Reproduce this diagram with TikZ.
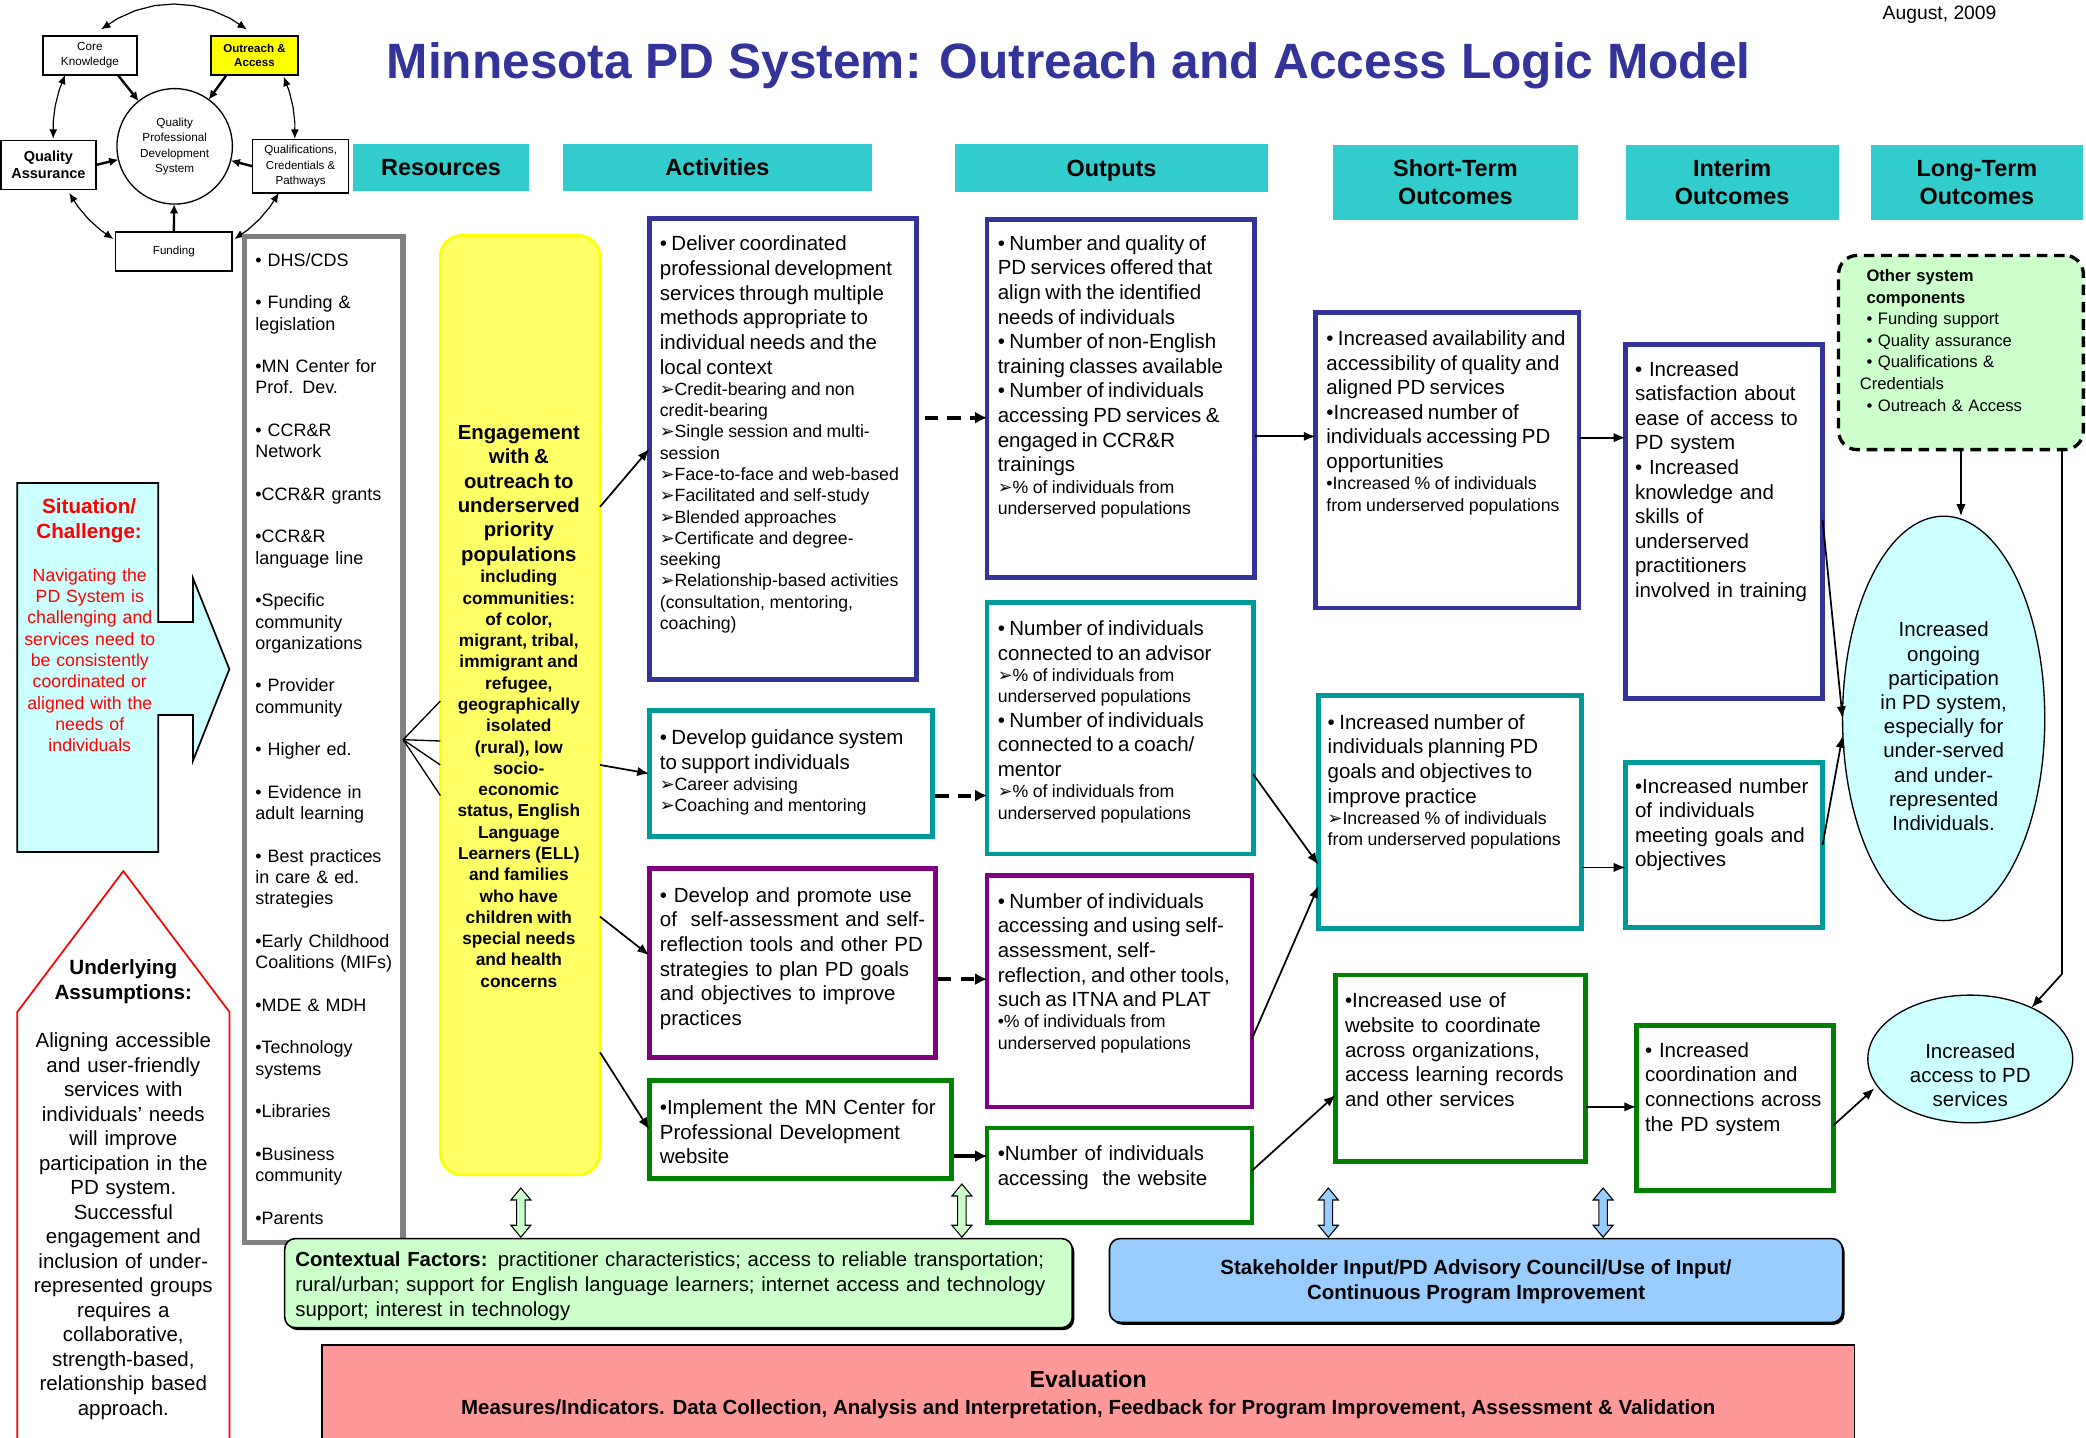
\documentclass[tikz,border=0pt]{standalone}
\usepackage{fontspec}
\setmainfont{Liberation Sans}
\newfontfamily\dejavu{DejaVu Sans}
\usetikzlibrary{arrows.meta,shapes.geometric,shadows}
\definecolor{navy}{HTML}{333399}
\definecolor{tealb}{HTML}{009999}
\definecolor{purp}{HTML}{800080}
\definecolor{grn}{HTML}{008000}
\definecolor{hdr}{HTML}{33CCCC}
\definecolor{ylw}{HTML}{FFFF66}
\definecolor{ylwb}{HTML}{FFFF00}
\definecolor{lcyan}{HTML}{CCFFFF}
\definecolor{lgrn}{HTML}{CCFFCC}
\definecolor{lblue}{HTML}{99CCFF}
\definecolor{salmon}{HTML}{FF9999}
\definecolor{grayb}{HTML}{808080}
\newcommand\arr{{\dejavu\char"27A2}}
\newcommand\fmn{\fontsize{15.4}{18.5}\selectfont}
\newcommand\fsbb{\fontsize{13.3}{16}\selectfont}
\newcommand\dblarr[4]{\draw[dbl, fill=#4] (#1,#2) -- ({#1+7.5},{#2+9}) -- ({#1+3.2},{#2+9}) -- ({#1+3.2},{#3-9}) -- ({#1+7.5},{#3-9}) -- (#1,#3) -- ({#1-7.5},{#3-9}) -- ({#1-3.2},{#3-9}) -- ({#1-3.2},{#2+9}) -- ({#1-7.5},{#2+9}) -- cycle;}
\setlength{\parindent}{0pt}
\begin{document}
\begin{tikzpicture}[x=1pt,y=-1pt,
  box/.style={draw, line width=3.5pt, fill=white, inner sep=0pt, outer sep=0pt},
  tx/.style={anchor=north west, inner sep=0pt, outer sep=0pt, align=left, text width=#1},
  ctr/.style={anchor=north, inner sep=0pt, outer sep=0pt, align=center, text width=#1},
  hdrbox/.style={fill=hdr, inner sep=0pt, outer sep=0pt, align=center, font=\fontsize{17.6}{21}\selectfont\bfseries},
  hdrone/.style={hdrbox, text height=12.7pt, text depth=0pt},
  cbox/.style={draw, line width=1pt, fill=white, inner sep=0pt, outer sep=0pt, align=center},
  cyc/.style={line width=0.9pt, {Latex[length=7pt,width=6pt]}-{Latex[length=7pt,width=6pt]}},
  cst/.style={line width=1.8pt, -{Latex[length=7pt,width=6.5pt]}},
  marr/.style={line width=1.3pt, -{Latex[length=9pt,width=7pt]}},
  darr/.style={line width=3pt, dash pattern=on 10pt off 7pt, -{Latex[length=9pt,width=9pt]}},
  tarr/.style={line width=3pt, -{Latex[length=9pt,width=9pt]}},
  fan/.style={line width=1pt},
  rbox/.style={draw, line width=1.2pt, rounded corners=8pt, inner sep=0pt, outer sep=0pt},
  dbl/.style={draw=black, line width=0.8pt},
]
\useasboundingbox (0,0) rectangle (1568,1080.2);
\fill[white] (0,0) rectangle (1568,1080.2);

% ---------- title ----------
\node[anchor=base, inner sep=0, font=\fontsize{37.3}{45}\selectfont\bfseries, text=navy] (title) at (803.3,58.9) {Minnesota PD System: Outreach and Access Logic Model};
\node[anchor=base west, inner sep=0, font=\fontsize{14.5}{17}\selectfont] (date) at (1415,15) {August, 2009};

% ---------- cycle diagram ----------
\node[cbox, minimum width=70.7, minimum height=29.4, font=\fontsize{8.8}{11.3}\selectfont] (core) at (67.6,41.7) {Core\\Knowledge};
\node[cbox, fill=ylwb, minimum width=65.4, minimum height=29.4, font=\fontsize{8.7}{10.5}\selectfont\bfseries] (outreach) at (191.3,41.7) {Outreach \&\\Access};
\node[cbox, minimum width=71.3, minimum height=37, font=\fontsize{10.9}{13}\selectfont\bfseries] (qa) at (36.4,124) {Quality\\Assurance};
\node[cbox, minimum width=72, minimum height=40, font=\fontsize{8.7}{11.7}\selectfont] (qual) at (226,125) {Qualifications,\\Credentials \&\\Pathways};
\node[cbox, minimum width=87.4, minimum height=29.3, font=\fontsize{8.7}{11}\selectfont] (funding) at (130.7,189) {Funding};
\node[cbox, circle, minimum size=86.8, font=\fontsize{8.8}{11.5}\selectfont] (qpd) at (131.3,110) {Quality\\Professional\\Development\\System};
\draw[cyc] plot[domain=-127:-53, samples=9] ({130.8+91*cos(\x)},{97.7+94.7*sin(\x)});
\draw[cyc] plot[domain=-25:4, samples=5] ({130.8+91*cos(\x)},{97.7+94.7*sin(\x)});
\draw[cyc] plot[domain=30:60, samples=5] ({130.8+91*cos(\x)},{97.7+94.7*sin(\x)});
\draw[cyc] plot[domain=120:150, samples=5] ({130.8+91*cos(\x)},{97.7+94.7*sin(\x)});
\draw[cyc] plot[domain=176:206, samples=5] ({130.8+91*cos(\x)},{97.7+94.7*sin(\x)});
\draw[cst] (core.-35) -- (qpd);
\draw[cst] (outreach.-145) -- (qpd);
\draw[cst] (qa.east) -- (qpd);
\draw[cst] (qual.west) -- (qpd);
\draw[cst] (funding.north) -- (qpd);

% ---------- headers ----------
\node[hdrone, minimum width=133, minimum height=35.5] (hres) at (331.5,125.75) {Resources};
\node[hdrone, minimum width=232.5, minimum height=35.5] (hact) at (539.25,125.75) {Activities};
\node[hdrone, minimum width=235, minimum height=36] (hout) at (835.5,126) {Outputs};
\node[hdrbox, minimum width=184, minimum height=56.5] (hst) at (1094,137.25) {Short-Term\\Outcomes};
\node[hdrbox, minimum width=160, minimum height=56.5] (hint) at (1302,137.25) {Interim\\Outcomes};
\node[hdrbox, minimum width=160, minimum height=56.5] (hlt) at (1486,137.25) {Long-Term\\Outcomes};

% ---------- situation & assumptions ----------
\draw[fill=lcyan, line width=1.3pt] (13,363) -- (119,363) -- (119,467.5) -- (145,467.5) -- (145,434.5) -- (172.4,503) -- (145,572) -- (145,537.5) -- (119,537.5) -- (119,640.5) -- (13,640.5) -- cycle;
\node[ctr=104, text=red, font=\fontsize{15.5}{18.5}\selectfont\bfseries] (sitt) at (67,375) {Situation/\\Challenge:};
\node[ctr=104, text=red, font=\fontsize{13.3}{16}\selectfont] (sitx) at (67.5,427.4) {Navigating the\\PD System is\\challenging and\\services need to\\be consistently\\coordinated or\\aligned with the\\needs of\\individuals};
\draw[fill=white, draw=red, line width=1.3pt] (13,1095) -- (13,760.7) -- (92.7,654.8) -- (172.5,760.7) -- (172.5,1095);
\node[ctr=150, font=\fontsize{15.5}{18.7}\selectfont\bfseries] (ast) at (92.7,721.2) {Underlying\\Assumptions:};
\node[ctr=155, font=\fontsize{15.4}{18.4}\selectfont] (asx) at (92.7,776.5) {Aligning accessible\\and user-friendly\\services with\\individuals’ needs\\will improve\\participation in the\\PD system.\\Successful\\engagement and\\inclusion of under-\\represented groups\\requires a\\collaborative,\\strength-based,\\relationship based\\approach.};

% ---------- resources ----------
\node[box, draw=grayb, line width=4pt, minimum width=119, minimum height=756] (res) at (243.5,556) {};
\node[tx=108, font=\fontsize{13.5}{16}\selectfont] (rest) at (192,190.3) {• DHS/CDS\\[16pt]• Funding \&\\legislation\\[16pt]•MN Center for\\Prof. Dev.\\[16pt]• CCR\&R\\Network\\[16pt]•CCR\&R grants\\[16pt]•CCR\&R\\language line\\[16pt]•Specific\\community\\organizations\\[16pt]• Provider\\community\\[16pt]• Higher ed.\\[16pt]• Evidence in\\adult learning\\[16pt]• Best practices\\in care \& ed.\\strategies\\[16pt]•Early Childhood\\Coalitions (MIFs)\\[16pt]•MDE \& MDH\\[16pt]•Technology\\systems\\[16pt]•Libraries\\[16pt]•Business\\community\\[16pt]•Parents};

% ---------- yellow engagement box ----------
\node[draw=ylwb, fill=ylw, line width=2pt, rounded corners=16pt, minimum width=120, minimum height=706, inner sep=0, outer sep=0] (yel) at (391,530) {};
\node[ctr=118, font=\bfseries] (yelt) at (390,319.5) {{\fontsize{15.3}{18.4}\selectfont Engagement\\with \&\\outreach to\\underserved\\priority\\populations\par}{\fontsize{13}{16}\selectfont including\\communities:\\of color,\\migrant, tribal,\\immigrant and\\refugee,\\geographically\\isolated\\(rural), low\\socio-\\economic\\status, English\\Language\\Learners (ELL)\\and families\\who have\\children with\\special needs\\and health\\concerns\par}};

% ---------- activities ----------
\node[box, draw=navy, minimum width=201, minimum height=347] (a1) at (588.5,337.5) {};
\node[box, draw=tealb, minimum width=213, minimum height=95] (a2) at (594.5,581.5) {};
\node[box, draw=purp, minimum width=215, minimum height=142] (a3) at (595.5,724) {};
\node[box, draw=grn, minimum width=227, minimum height=74] (a4) at (601.5,849) {};
\node[tx=200] (a1t) at (496,177.5) {{\fmn • Deliver coordinated\\professional development\\services through multiple\\methods appropriate to\\individual needs and the\\local context\par}{\fsbb\arr Credit-bearing and non\\credit-bearing\\\arr Single session and multi-\\session\\\arr Face-to-face and web-based\\\arr Facilitated and self-study\\\arr Blended approaches\\\arr Certificate and degree-\\seeking\\\arr Relationship-based activities\\(consultation, mentoring,\\coaching)\par}};
\node[tx=205] (a2t) at (496,548.5) {{\fmn • Develop guidance system\\to support individuals\par}{\fsbb\arr Career advising\\\arr Coaching and mentoring\par}};
\node[tx=205, font=\fmn] (a3t) at (496,667) {• Develop and promote use\\of~ self-assessment and self-\\reflection tools and other PD\\strategies to plan PD goals\\and objectives to improve\\practices};
\node[tx=215, font=\fmn] (a4t) at (496,826.5) {•Implement the MN Center for\\Professional Development\\website};

% ---------- outputs ----------
\node[box, draw=navy, minimum width=201, minimum height=269] (o1) at (842.5,299.5) {};
\node[box, draw=tealb, minimum width=200, minimum height=189] (o2) at (842,547.5) {};
\node[box, draw=purp, minimum width=199, minimum height=174] (o3) at (841.5,745) {};
\node[box, draw=grn, minimum width=199, minimum height=71] (o4) at (841.5,883.5) {};
\node[tx=195] (o1t) at (750,177) {{\fmn • Number and quality of\\PD services offered that\\align with the identified\\needs of individuals\\• Number of non-English\\training classes available\\• Number of individuals\\accessing PD services \&\\engaged in CCR\&R\\trainings\par}{\fsbb\arr\% of individuals from\\underserved populations\par}};
\node[tx=195] (o2t) at (750,466.5) {{\fmn • Number of individuals\\connected to an advisor\par}{\fsbb\arr\% of individuals from\\underserved populations\par}{\fmn • Number of individuals\\connected to a coach/\\mentor\par}{\fsbb\arr\% of individuals from\\underserved populations\par}};
\node[tx=195] (o3t) at (750,671.5) {{\fmn • Number of individuals\\accessing and using self-\\assessment, self-\\reflection, and other tools,\\such as ITNA and PLAT\par}{\fsbb •\% of individuals from\\underserved populations\par}};
\node[tx=195, font=\fmn] (o4t) at (750,861.5) {•Number of individuals\\accessing~ the website};

% ---------- short-term ----------
\node[box, draw=navy, minimum width=198, minimum height=222] (s1) at (1088,346) {};
\node[box, draw=tealb, minimum width=198, minimum height=175] (s2) at (1090,610.5) {};
\node[box, draw=grn, minimum width=188, minimum height=140] (s3) at (1098,803) {};
\node[tx=195] (s1t) at (997,248.5) {{\fmn • Increased availability and\\accessibility of quality and\\aligned PD services\\•Increased number of\\individuals accessing PD\\opportunities\par}{\fsbb •Increased \% of individuals\\from underserved populations\par}};
\node[tx=195] (s2t) at (998,537) {{\fmn • Increased number of\\individuals planning PD\\goals and objectives to\\improve practice\par}{\fsbb\arr Increased \% of individuals\\from underserved populations\par}};
\node[tx=185, font=\fmn] (s3t) at (1011,746.5) {•Increased use of\\website to coordinate\\across organizations,\\access learning records\\and other services};

% ---------- interim ----------
\node[box, draw=navy, minimum width=148, minimum height=266] (i1) at (1296,392) {};
\node[box, draw=tealb, minimum width=148, minimum height=124] (i2) at (1296,635) {};
\node[box, draw=grn, minimum width=148, minimum height=124] (i3) at (1304,833) {};
\node[tx=140, font=\fmn] (i1t) at (1229,271.5) {• Increased\\satisfaction about\\ease of access to\\PD system\\• Increased\\knowledge and\\skills of\\underserved\\practitioners\\involved in training};
\node[tx=140, font=\fmn] (i2t) at (1229,585) {•Increased number\\of individuals\\meeting goals and\\objectives};
\node[tx=140, font=\fmn] (i3t) at (1236.5,783.5) {• Increased\\coordination and\\connections across\\the PD system};

% ---------- long-term ----------
\node[draw, line width=2.5pt, dash pattern=on 8pt off 5pt, rounded corners=14pt, fill=lgrn, minimum width=184, minimum height=146, inner sep=0, outer sep=0] (osc) at (1474,265) {};
\node[tx=165, font=\fontsize{12.5}{16.2}\selectfont] (osct) at (1398,202.7) {\hspace*{5pt}\textbf{Other system}\\\hspace*{5pt}\textbf{components}\\\hspace*{5pt}• Funding support\\\hspace*{5pt}• Quality assurance\\\hspace*{5pt}• Qualifications \&\\Credentials\\\hspace*{5pt}• Outreach \& Access};
\node[ellipse, draw, line width=1pt, fill=lcyan, minimum width=152, minimum height=304, inner sep=0, outer sep=0] (e1) at (1461,540) {};
\node[align=center, inner sep=0, font=\fontsize{15.4}{18.2}\selectfont] (e1t) at (1461,546) {Increased\\ongoing\\participation\\in PD system,\\especially for\\under-served\\and under-\\represented\\Individuals.};
\node[ellipse, draw, line width=1pt, fill=lcyan, minimum width=154, minimum height=96, inner sep=0, outer sep=0] (e2) at (1481,796) {};
\node[align=center, inner sep=0, font=\fontsize{15.4}{18.2}\selectfont] (e2t) at (1481,808) {Increased\\access to PD\\services};

% ---------- bottom boxes ----------
\node[rbox, fill=lgrn, drop shadow={shadow xshift=1.5pt, shadow yshift=-1.8pt, opacity=1, fill=black}, minimum width=592, minimum height=67] (ctxbox) at (510,964.5) {};
\node[tx=600, font=\fontsize{15.3}{19}\selectfont] (ctxt) at (222,940.6) {\textbf{Contextual Factors:} practitioner characteristics; access to reliable transportation;\\rural/urban; support for English language learners; internet access and technology\\support; interest in technology};
\node[rbox, fill=lblue, drop shadow={shadow xshift=1.5pt, shadow yshift=-1.8pt, opacity=1, fill=black}, minimum width=551, minimum height=63] (stk) at (1109.5,962.5) {};
\node[align=center, inner sep=0, font=\fontsize{15.4}{19}\selectfont\bfseries] (stkt) at (1109.5,963.5) {Stakeholder Input/PD Advisory Council/Use of Input/\\Continuous Program Improvement};
\node[draw, line width=1.2pt, fill=salmon, minimum width=1152, minimum height=84, inner sep=0, outer sep=0] (evalb) at (818,1053) {};
\node[inner sep=0, font=\fontsize{17.4}{21}\selectfont\bfseries] (evt) at (818,1037) {Evaluation};
\node[inner sep=0, font=\fontsize{15.4}{18}\selectfont\bfseries] (evx) at (818,1059) {Measures/Indicators. Data Collection, Analysis and Interpretation, Feedback for Program Improvement, Assessment \& Validation};

\dblarr{391.5}{893}{930}{lgrn}
\dblarr{723}{890}{930}{lgrn}
\dblarr{998.5}{893}{930}{lblue}
\dblarr{1205}{893}{930}{lblue}

% ---------- connectors ----------
\foreach \s in {3,-27,-45,-68} \draw[fan] (res.east) -- ([yshift=\s pt]yel.west);
\draw[marr] ([yshift=149pt]yel.east) -- (a1.west);
\draw[marr] ([yshift=-45pt]yel.east) -- (a2.west);
\draw[marr] ([yshift=-159pt]yel.east) -- ([yshift=6pt]a3.west);
\draw[marr] ([yshift=-261pt]yel.east) -- (a4.west);
\draw[darr, shorten <=6pt] ([yshift=23.5pt]a1.east) -- ([yshift=-14.5pt]o1.west);
\draw[darr, shorten <=2pt] ([yshift=-16.5pt]a2.east) -- ([yshift=-50.5pt]o2.west);
\draw[darr, shorten <=2pt] ([yshift=-12pt]a3.east) -- ([yshift=9pt]o3.west);
\draw[tarr, shorten <=2pt] ([yshift=-20pt]a4.east) -- ([yshift=14.5pt]o4.west);
\draw[marr] ([yshift=-28.5pt]o1.east) -- ([yshift=18pt]s1.west);
\draw[marr] ([yshift=-34.5pt]o2.east) -- ([yshift=-39.5pt]s2.west);
\draw[marr] ([yshift=-36pt]o3.east) -- ([yshift=-55.5pt]s2.west);
\draw[marr] ([yshift=3.5pt]o4.east) -- ([yshift=-20pt]s3.west);
\draw[marr] ([yshift=17pt]s1.east) -- ([yshift=63pt]i1.west);
\draw[marr] ([yshift=-41.5pt]s2.east) -- ([yshift=-17pt]i2.west);
\draw[marr] ([yshift=-29pt]s3.east) -- ([yshift=1pt]i3.west);
\draw[marr] ([yshift=1pt]i1.east) -- (e1.west);
\draw[marr] (i2.east) -- ([yshift=-13pt]e1.west);
\draw[marr] ([yshift=-13pt]i3.east) -- ([yshift=-22pt,xshift=5pt]e2.west);
\draw[marr] (osc.south) -- (osc.south |- e1.north);
\draw[marr] ([xshift=-16pt]osc.south east) -- ++(0,394) -- (e2.40);
\end{tikzpicture}
\end{document}
